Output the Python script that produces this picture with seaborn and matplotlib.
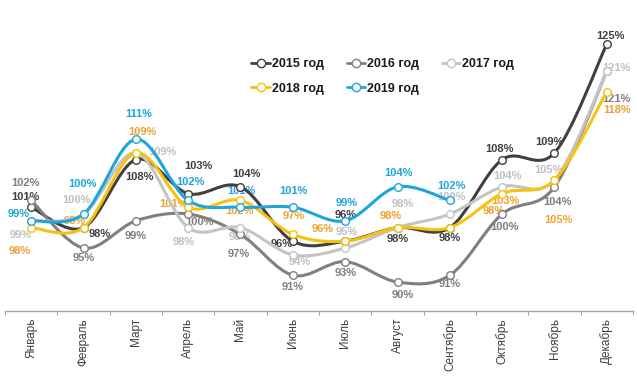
import numpy as np
import pandas as pd
import matplotlib
matplotlib.use("Agg")
import matplotlib.pyplot as plt
import seaborn as sns
from matplotlib.path import Path
from matplotlib.patches import PathPatch
from matplotlib.lines import Line2D

# ---------------- data ----------------
months = ["Январь", "Февраль", "Март", "Апрель", "Май", "Июнь", "Июль",
          "Август", "Сентябрь", "Октябрь", "Ноябрь", "Декабрь"]
years = ["2015 год", "2016 год", "2017 год", "2018 год", "2019 год"]
v2015 = [101, 98, 108, 103, 104, 96, 96, 98, 98, 108, 109, 125]
v2016 = [102, 95, 99, 100, 97, 91, 93, 90, 91, 100, 104, 121]
v2017 = [99, 100, 109, 98, 98, 94, 95, 98, 100, 104, 105, 121]
v2018 = [98, 98, 109, 101, 102, 97, 96, 98, 98, 103, 105, 118]
v2019 = [99, 100, 111, 102, 101, 101, 99, 104, 102]
series_values = [v2015, v2016, v2017, v2018, v2019]

# ---------------- styles ----------------
line_colors = ["#404040", "#808080", "#c4c4c4", "#f5c211", "#1ea6dc"]
label_colors = ["#404040", "#7f7f7f", "#c0c0c0", "#f0a030", "#1ea6dc"]
# label offsets in pixels (dx right, dy down)
label_offsets = [
    [(-6, -10), (16, 6), (4, 17), (10, -28), (6, -13), (-11, 3), (0, -26),
     (0, 11), (0, 10), (-3, -11), (-5, -11), (4, -8)],
    [(-6, -17), (0, 10), (0, 15), (11, 8), (-2, 20), (0, 12), (0, 11),
     (5, 13), (0, 9), (2, 13), (3, 15), (10, 28)],
    [(-11, 14), (-7, -14), (27, -1), (-4, 14), (-1, 9), (7, 7), (2, -16),
     (5, -24), (2, -17), (5, -11), (-6, -10), (10, -3)],
    [(-11, 23), (-9, -7), (7, -21), (-15, -3), (-1, 11), (1, -18), (-23, -12),
     (-7, -12), (44, -17), (3, 7), (4, 40), (10, 18)],
    [(-13, -7), (-1, -30), (3, -25), (2, -18), (1, -16), (1, -16), (1, -18),
     (1, -14), (2, -14)],
]

sns.set_theme(style="white")
plt.rcParams["font.family"] = ["Liberation Sans", "DejaVu Sans"]

fig = plt.figure(figsize=(6.37, 3.82), dpi=100)
ax = fig.add_axes([5 / 637, 71 / 382, 628 / 637, 311 / 382])


def smooth_path(xs, ys):
    pts = np.column_stack([xs, ys]).astype(float)
    n = len(pts)
    verts = [pts[0]]
    codes = [Path.MOVETO]
    for i in range(n - 1):
        p0 = pts[i - 1] if i > 0 else pts[i]
        p1 = pts[i]
        p2 = pts[i + 1]
        p3 = pts[i + 2] if i + 2 < n else pts[i + 1]
        c1 = p1 + (p2 - p0) / 6.0
        c2 = p2 - (p3 - p1) / 6.0
        verts += [c1, c2, p2]
        codes += [Path.CURVE4] * 3
    return Path(verts, codes)


for k, (name, vals) in enumerate(zip(years, series_values)):
    df = pd.DataFrame({"pos": np.arange(len(vals)), "value": vals})
    patch = PathPatch(smooth_path(df["pos"], df["value"]), fill=False,
                      edgecolor=line_colors[k], lw=2.2, zorder=3 + k * 2,
                      capstyle="round", joinstyle="round")
    ax.add_patch(patch)
    sns.scatterplot(data=df, x="pos", y="value", ax=ax, color="white",
                    edgecolor=line_colors[k], linewidth=1.0, s=30,
                    zorder=4 + k * 2, legend=False)
    for i, v in enumerate(vals):
        dx, dy = label_offsets[k][i]
        ax.annotate(f"{v}%", (i, v), xytext=(dx, -dy), textcoords="offset pixels",
                    ha="center", va="center", fontsize=8, fontweight="bold",
                    color=label_colors[k], zorder=1)

ax.set_xlim(-0.5, 11.5)
ax.set_ylim(85.74, 131.47)
ax.set_xlabel("")
ax.set_ylabel("")
ax.set_yticks([])
ax.set_xticks(range(12))
ax.set_xticklabels(months, rotation=90, fontsize=8.5, color="#404040")
ax.set_xticks(np.arange(-0.5, 12, 1), minor=True)
ax.tick_params(axis="x", which="major", length=0, pad=5)
ax.tick_params(axis="x", which="minor", bottom=True, length=3, width=0.8,
               color="#a6a6a6")
for s in ["top", "left", "right"]:
    ax.spines[s].set_visible(False)
ax.spines["bottom"].set_color("#a6a6a6")
ax.spines["bottom"].set_linewidth(1.0)

handles = [Line2D([0], [0], color=line_colors[k], lw=2, marker="o",
                  markersize=6, markerfacecolor="white",
                  markeredgecolor=line_colors[k], markeredgewidth=1)
           for k in range(5)]
order = [0, 3, 1, 4, 2]
leg = fig.legend([handles[i] for i in order], [years[i] for i in order],
                 ncol=3, loc="center", bbox_to_anchor=(0.601, 0.800),
                 frameon=False, handlelength=1.5, handletextpad=0.15,
                 columnspacing=1.8, labelspacing=1.0,
                 prop={"size": 9, "weight": "bold"})
for t in leg.get_texts():
    t.set_color("#1a1a1a")

fig.savefig("out.png", dpi=100)
